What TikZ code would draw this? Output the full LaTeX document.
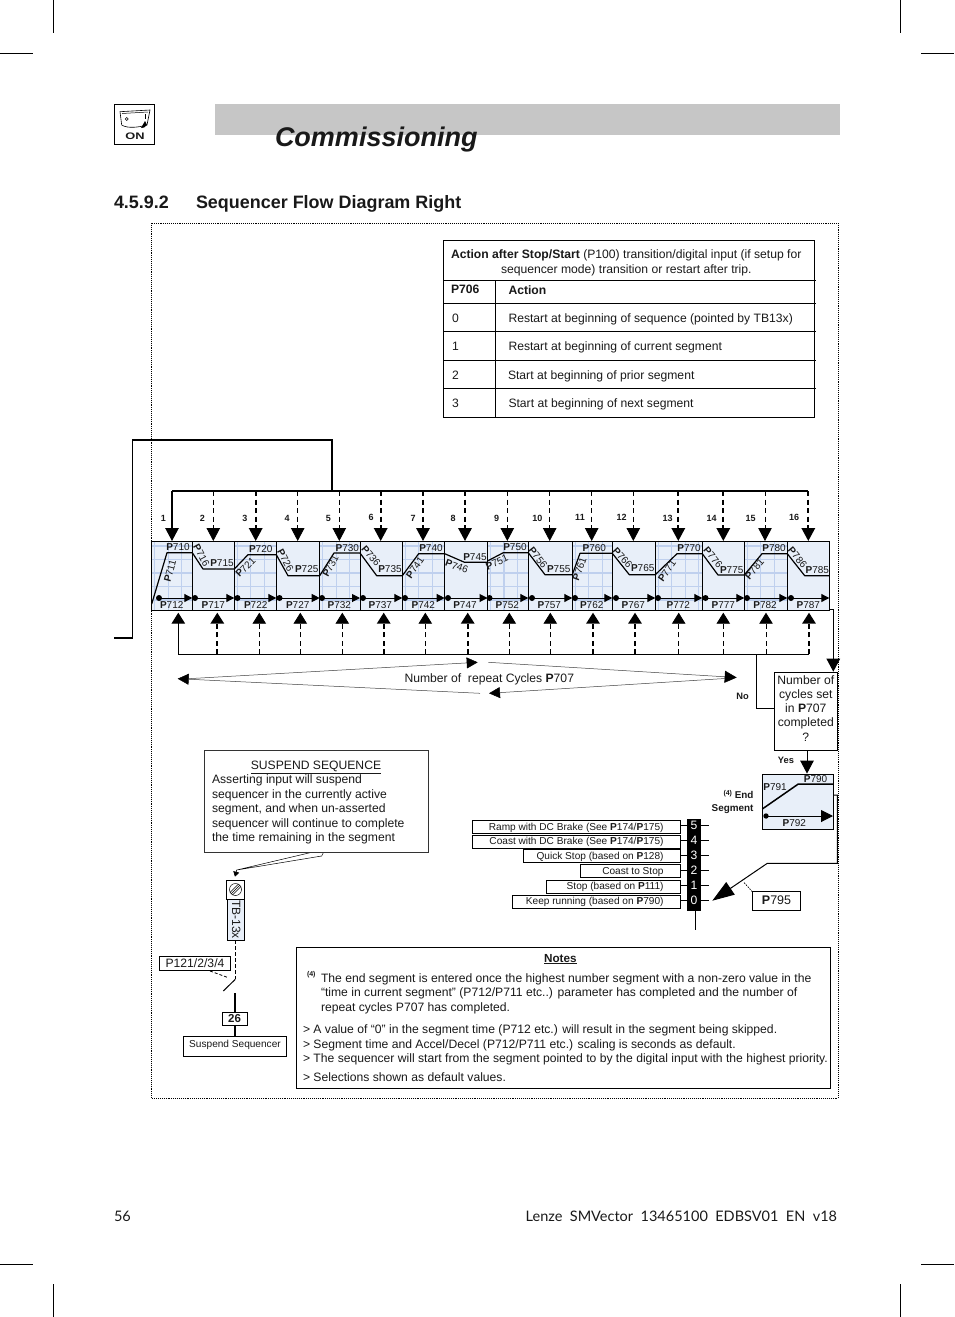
\documentclass[tikz,border=0pt]{standalone}
\usepackage{fontspec}
\setmainfont{Liberation Sans}
\newfontfamily\footfont{Lato}
\usetikzlibrary{arrows.meta}
\definecolor{cellbg}{HTML}{E8EFF9}
\definecolor{gridc}{HTML}{BFD0EE}
\definecolor{bandc}{HTML}{C6C6C6}
\newcommand\fs[1]{\fontsize{#1}{#1}\selectfont}
\newcommand\Pb[1]{\textbf{P}#1}
\tikzset{
 every node/.style={inner sep=0pt,outer sep=0pt,text=black!90},
 txt/.style={font=\fs{12.15},anchor=base west},
 small/.style={font=\fs{10},anchor=center},
 num/.style={font=\fs{9}\bfseries,anchor=center},
 tline/.style={line width=.8pt,black},
 crop/.style={line width=.6pt,black},
 frameline/.style={line width=.7pt,black,dash pattern=on .9pt off 1pt},
 sthin/.style={line width=.8pt,dash pattern=on 5pt off 3.5pt},
 sthick/.style={line width=1.7pt,dash pattern=on 5pt off 3.5pt},
 ssolid/.style={line width=1.2pt},
 head/.style={-{Triangle[length=13pt,width=13.5pt]}},
 box/.style={draw=black,line width=.8pt,fill=white},
 lens/.style={line width=.5pt,black!75},
 mode/.style={font=\fs{10.1},anchor=base east},
 modebox/.style={draw=black,line width=.7pt,fill=white},
 prof/.style={line width=1.2pt,black,line join=round},
 timer/.style={line width=1pt,-{Triangle[length=8pt,width=8pt]}},
}
% id, x0, x1, grid(0/1), y start, x knee, y knee, dot x, bottom label x
\newcommand\seg[9]{%
  \ifnum#4=1
    \fill[cellbg] (#2,541.5) rectangle (#3,610.3);
    \begin{scope}
      \clip (#2,541.5) rectangle (#3,610.3);
      \foreach \gx in {3,16.5,...,48} \draw[gridc,line width=1.3pt] ({#2+\gx},541) -- ({#2+\gx},611);
      \foreach \gy in {546,559.5,573,586.5,600} \draw[gridc,line width=1.3pt] (#2,\gy) -- (#3,\gy);
    \end{scope}
  \else
    \fill[cellbg] (#2,541.5) rectangle (#3,610.3);
  \fi
  \draw[line width=.9pt] (#2,541.5) rectangle (#3,610.3);
  \draw[prof] (#2,#5) -- (#6,#7) -- (#3,#7);
  \fill (#8,598) circle (3pt);
  \draw[timer] (#8,598) -- (#3,598);
  \node[small] (bot#1) at (#9,604.7) {\Pb{7#1}};
}
\newcommand\lab[3]{\node[small] (lab#1) at (#2,#3) {\Pb{7#1}};}
\newcommand\rlab[4]{\node[small,rotate=#4] (lab#1) at (#2,#3) {\Pb{7#1}};}
\begin{document}
\begin{tikzpicture}[x=1pt,y=-1pt]
\useasboundingbox (0,0) rectangle (954,1317);
% crop marks
\draw[crop] (0,53) -- (33,53); \draw[crop] (53,0) -- (53,33);
\draw[crop] (921,53) -- (954,53); \draw[crop] (900,0) -- (900,33);
\draw[crop] (0,1264) -- (33,1264); \draw[crop] (53,1284) -- (53,1317);
\draw[crop] (921,1264) -- (954,1264); \draw[crop] (900,1284) -- (900,1317);
% header
\fill[bandc] (215,104) rectangle (840,135);
\node[font=\fs{27}\bfseries\itshape,anchor=base west] (title) at (275,146) {Commissioning};
\draw[line width=1pt] (114,104.5) rectangle (154.5,144.5);
\draw[line width=.6pt] (120,111.7) -- (150,110) -- (147,125) .. controls (140,127) and (128,129) .. (121.7,125) -- cycle;
\draw[line width=.5pt] (122,113.5) -- (148,112);
\draw[line width=.5pt] (126.7,119) circle (1.5pt);
\draw[line width=.7pt] (145,114) -- (145,119);
\fill (145,121) -- (141,128) -- (144,127.5) -- (147,125) -- cycle;
\node[font=\fs{9.5}\bfseries,anchor=center,xscale=1.35] (on) at (135,136) {ON};
\node[font=\fs{17.95}\bfseries,anchor=base west] (secnum) at (114,208) {4.5.9.2};
\node[font=\fs{17.95}\bfseries,anchor=base west] (sectitle) at (196,208) {Sequencer Flow Diagram Right};
% frame
\draw[frameline] (151.5,223) rectangle (838,1098);
% table
\draw[tline] (443.3,240.3) rectangle (814.3,417);
\foreach \ty in {280.3,303,331.3,360,388} \draw[tline] (443.3,\ty) -- (815.5,\ty);
\draw[tline] (495.7,280.3) -- (495.7,417);
\node[txt] (th1) at (451,258) {\textbf{Action after Stop/Start} (P100) transition/digital input (if setup for};
\node[txt] (th2) at (501,273) {sequencer mode) transition or restart after trip.};
\node[txt,font=\fs{12.15}\bfseries] (p706) at (451,293) {P706};
\node[txt,font=\fs{12.15}\bfseries] (act) at (508.5,294) {Action};
\node[txt] (r0n) at (452,322) {0};
\node[txt] (r0) at (508.5,322) {Restart at beginning of sequence (pointed by TB13x)};
\node[txt] (r1n) at (452,350.5) {1};
\node[txt] (r1) at (508.5,350) {Restart at beginning of current segment};
\node[txt] (r2n) at (452,379) {2};
\node[txt] (r2) at (508,379) {Start at beginning of prior segment};
\node[txt] (r3n) at (452,407) {3};
\node[txt] (r3) at (508.5,407) {Start at beginning of next segment};
% restart line
\coordinate (r1a) at (114,638);\coordinate (r1b) at (132.7,638);\coordinate (r1c) at (132.7,440);\coordinate (r1d) at (332,440);\coordinate (r1e) at (332,491);
\draw[line width=1.4pt] (r1a) -- (r1b) -- (r1c) -- (r1d) -- (r1e);
% cells
\seg{12}{151.7}{192.3}{1}{604}{167}{552.7}{159}{171.7}
\seg{17}{192.3}{234.3}{0}{552.7}{203}{569}{195}{213.3}
\seg{22}{234.3}{276.3}{1}{569}{248}{554.7}{237.5}{255.7}
\seg{27}{276.3}{319.7}{0}{554.7}{288}{575.7}{279.5}{297.7}
\seg{32}{319.7}{360}{1}{575.7}{334}{553}{322}{339.3}
\seg{37}{360}{402.3}{0}{553}{376.7}{575.7}{363}{380.3}
\seg{42}{402.3}{444.7}{1}{575.7}{418.7}{553.7}{405}{423.3}
\seg{47}{444.7}{487.5}{0}{553.7}{464.5}{562.3}{448}{465}
\seg{52}{487.5}{528.3}{1}{561}{503.3}{552.7}{489.5}{507.3}
\seg{57}{528.3}{572.3}{0}{552.7}{545}{574.7}{532}{549.3}
\seg{62}{572.3}{612.3}{1}{574.7}{580}{553.3}{575}{591.7}
\seg{67}{612.3}{655.3}{0}{553.3}{629.3}{574.7}{616}{633.3}
\seg{72}{655.3}{702.3}{1}{574.7}{677}{553.7}{658}{678.3}
\seg{77}{702.3}{744.3}{0}{553.7}{718}{575}{705.5}{723.3}
\seg{82}{744.3}{787.3}{1}{575}{762}{553.7}{747}{765}
\seg{87}{787.3}{829.3}{0}{553.7}{804.7}{575.7}{791}{808.3}
% top labels
\lab{10}{178}{547}\rlab{11}{170}{571}{75}
\rlab{16}{201.5}{555}{-62}\lab{15}{222}{563.5}
\lab{20}{260.7}{549.3}\rlab{21}{245.5}{567}{45}
\rlab{26}{285.5}{560}{-62}\lab{25}{306.7}{569.5}
\lab{30}{347.3}{547.7}\rlab{31}{330.5}{566}{62}
\rlab{36}{371}{556}{-50}\lab{35}{390}{569.5}
\lab{40}{431}{548.3}\rlab{41}{415}{567.5}{55}
\lab{45}{475}{556.7}\rlab{46}{456.7}{566.5}{-20}
\lab{50}{515}{547.3}\rlab{51}{497}{562.5}{25}
\rlab{56}{538}{557.5}{-52}\lab{55}{558.7}{569.5}
\lab{60}{594.3}{548.3}\rlab{61}{579.5}{569}{70}
\rlab{66}{622.5}{557.5}{-48}\lab{65}{642.7}{568.5}
\lab{70}{689}{548.3}\rlab{71}{667}{571}{55}
\rlab{76}{713}{557.5}{-50}\lab{75}{731.7}{570}
\lab{80}{774}{547.7}\rlab{81}{754.5}{569}{50}
\rlab{86}{797.5}{557.5}{-50}\lab{85}{817.3}{570}
% top bus and arrows
\coordinate (tl) at (172,491);\coordinate (tr) at (808.3,491);
\draw[line width=1.2pt] (tl) -- (tr);
\foreach \x/\st in {172/ssolid,213.3/sthin,255.7/sthick,297.7/sthin,339.3/sthin,380.7/sthick,423/sthick,465/sthick,507.3/sthin,549.7/sthin,591.7/sthin,633.3/sthin,678.3/sthick,723.3/sthick,765/sthin,808.3/sthick}
  \draw[\st,head] (\x,491) -- (\x,541);
% numbers
\foreach \i/\x/\y in {1/163.3/518,2/202.3/518.5,3/245/518.5,4/287/518.5,5/328.3/518.5,6/371/517.5,7/413/518.5,8/453/518.5,9/496.7/518.5,10/537.3/518.5,11/580/517.5,12/621.7/517.5,13/667.7/518.5,14/711.7/518.5,15/750.7/518.5,16/794/517.5}
  \node[num] (n\i) at (\x,\y) {\i};
% bottom bus and arrows
\coordinate (bl) at (178.3,654.3);\coordinate (br) at (809,654.3);
\draw[line width=1.2pt] (bl) -- (br);
\foreach \x/\st in {178.3/ssolid,217.3/sthick,259.3/sthin,300.3/sthin,342.3/sthin,383.7/sthick,425.3/sthin,467.7/sthick,509.3/sthin,550.3/sthin,593/sthick,635/sthick,678.7/sthin,723.3/sthin,766/sthin,809/sthick}
  \draw[\st,-{Triangle[length=11pt,width=13.5pt]}] (\x,654.3) -- (\x,612.7);
% repeat cycles lens
\coordinate (la) at (188,678.7);\coordinate (lb) at (477.7,662.3);\coordinate (lc) at (480,693.3);
\coordinate (ra) at (488.3,662.3);\coordinate (rb) at (736.7,677.5);\coordinate (rc) at (489,693.3);
\draw[lens,-{Triangle[length=11pt,width=11pt,black]}] (la) -- (lb);
\draw[lens,-{Triangle[length=11pt,width=11pt,black]}] (lc) -- (177.7,678.7);
\draw[lens,-{Triangle[length=12pt,width=12pt,black]}] (ra) -- (rb);
\draw[lens,-{Triangle[length=11pt,width=11pt,black]}] (725,678.5) -- (rc);
\node[txt] (rep) at (404.5,682) {Number of\ \ repeat Cycles \textbf{P}707};
% cycles box
\node[box,line width=1pt,minimum width=63pt,minimum height=77.7pt,anchor=north west] (cyc) at (774.3,672.3) {};
\foreach \i/\y/\t in {1/684/Number of,2/698/cycles set,3/712.5/in \textbf{P}707,4/726.5/completed,5/741/?}
  \node[txt,anchor=base] (cyct\i) at (805.8,\y) {\t};
\coordinate (o1) at (829.3,609.8);\coordinate (o2) at (833.3,609.8);\coordinate (o3) at (833.3,671.7);
\draw[line width=1pt,head] (o1) -- (o2) -- (o3);
\coordinate (no1) at (756.7,654.3);\coordinate (no2) at (756.7,708.3);
\draw[line width=1pt] (no1) -- (no2) -- (774.3,708.3);
\node[font=\fs{9.3}\bfseries] (no) at (742.5,696) {No};
\node[font=\fs{9.3}\bfseries] (yes) at (786,760.5) {Yes};
% end segment
\node[fill=cellbg,draw=black,line width=.8pt,minimum width=71pt,minimum height=55pt,anchor=north west] (endc) at (762.3,774.3) {};
\draw[line width=1pt,head] (807,750) -- (807,773.6);
\draw[line width=1.5pt] (762.3,809) -- (798.3,784) -- (833.3,784);
\fill (766,816) circle (2.7pt);
\draw[line width=1pt,-{Triangle[length=12pt,width=12pt]}] (766,816) -- (833,816);
\node[small] (p790) at (815.5,779) {\Pb{790}};
\node[small] (p791) at (775,786.7) {\Pb{791}};
\node[small] (p792) at (794.3,822.7) {\Pb{792}};
\node[font=\fs{9.9}\bfseries,anchor=base east] (es1) at (753.5,798.5) {\raisebox{3pt}{\fs{7}(4)} End};
\node[font=\fs{9.9}\bfseries,anchor=base east] (es2) at (753.5,811.5) {Segment};
% mode bar
\fill[black] (687.3,819.3) rectangle (700.7,910.7);
\foreach \i/\y/\t in {5/825/5,4/840/4,3/855/3,2/870/2,1/885/1,0/900.5/0}{
  \node[font=\fs{12.15},text=white] (d\i) at (694,\y) {\t};
  \draw[line width=.9pt] (700.7,\y) -- (709.3,\y);
  \draw[line width=.9pt] (680,\y) -- (687.3,\y);
}
\draw[line width=1pt] (695,910.7) -- (695,930);
\draw[modebox] (472.3,820.3) rectangle (680,833.3);
\draw[modebox] (472.3,835.3) rectangle (680,848.3);
\draw[modebox] (523.3,849.3) rectangle (680.7,862.3);
\draw[modebox] (580.3,864.3) rectangle (680.7,877.3);
\draw[modebox] (546.3,880) rectangle (680.7,893.3);
\draw[modebox] (512.3,895.3) rectangle (680.7,908.3);
\node[mode] (m5) at (663.5,830) {Ramp with DC Brake (See \textbf{P}174/\textbf{P}175)};
\node[mode] (m4) at (663.5,844.5) {Coast with DC Brake (See \textbf{P}174/\textbf{P}175)};
\node[mode] (m3) at (663.5,859.5) {Quick Stop (based on \textbf{P}128)};
\node[mode] (m2) at (663.5,874.5) {Coast to Stop};
\node[mode] (m1) at (663.5,889.5) {Stop (based on \textbf{P}111)};
\node[mode] (m0) at (663.5,904.5) {Keep running (based on \textbf{P}790)};
% end output
\coordinate (e1) at (833.3,795);\coordinate (e2) at (837.3,795);\coordinate (e3) at (837.3,863.3);\coordinate (e4) at (767.3,863.3);\coordinate (e5) at (712.3,900.7);
\draw[line width=1pt,-{Triangle[length=22pt,width=15pt]}] (e1) -- (e2) -- (e3) -- (e4) -- (e5);
\node[box,line width=1pt,minimum width=48.4pt,minimum height=18.3pt,anchor=north west] (p795) at (752.3,891.7) {};
\node[font=\fs{12.5}] (p795t) at (776.5,900.5) {\textbf{P}795};
\draw[line width=.7pt,dash pattern=on 1.5pt off 1.2pt] (p795.north west) -- (743.3,881.7);
% suspend box
\coordinate (cal1) at (310,852.7);\coordinate (cal2) at (323.3,852.7);\coordinate (cal3) at (321.7,856);\coordinate (cal4) at (236.7,870);
\draw[line width=.5pt,fill=white] (cal1) -- (cal4) -- (cal3) -- (cal2);
\draw[line width=.6pt,-{Triangle[length=5pt,width=6pt]}] (cal4) -- (235,876.7);
\node[draw=black!80,line width=.6pt,fill=white,minimum width=224.3pt,minimum height=102pt,anchor=north west] (susp) at (204,750.7) {};
\node[font=\fs{12.15},anchor=base] (susp0) at (316,769) {\underline{SUSPEND SEQUENCE}};
\foreach \i/\y/\t in {1/783/{Asserting input will suspend},2/798/{sequencer in the currently active},3/812.5/{segment, and when un-asserted},4/827/{sequencer will continue to complete},5/841.5/{the time remaining in the segment}}
  \node[txt] (susp\i) at (212,\y) {\t};
% TB13x
\draw[line width=.8pt,fill=white] (226.3,880.3) rectangle (244.7,899);
\draw[line width=.5pt] (235.5,889.5) circle (6pt);
\draw[line width=.5pt] (231,894) -- (240,885); \draw[line width=.5pt] (232.5,895) -- (241,886.5); \draw[line width=.5pt] (230,892.5) -- (238.5,884);
\node[draw=black,line width=.8pt,fill=cellbg,minimum width=17pt,minimum height=41pt,anchor=north west] (tb) at (227.7,899) {};
\node[font=\fs{12},rotate=-90] (tbt) at (236.3,919.5) {TB-13x};
\coordinate (sw1) at (235.3,979.3);\coordinate (sw2) at (223.3,991);\coordinate (sw3) at (235,993.3);
\draw[line width=.8pt,dash pattern=on 3.5pt off 2.5pt] (tb.south -| sw1) -- (sw1);
\draw[line width=1pt] (sw1) -- (sw2);
\node[box,line width=.8pt,minimum width=70.7pt,minimum height=14.3pt,anchor=north west] (p121) at (159.3,956) {};
\node[font=\fs{12.15}] (p121t) at (195,963) {P121/2/3/4};
\draw[line width=.8pt,dash pattern=on 3pt off 2pt] (210,971) -- (227.3,977.3);
\node[box,line width=1pt,minimum width=25pt,minimum height=13pt,anchor=north west] (n26) at (222.3,1012.3) {};
\node[font=\fs{11.5}\bfseries] (n26t) at (234.5,1019) {26};
\node[box,minimum width=103.4pt,minimum height=19.3pt,anchor=north west] (ssb) at (183.3,1036.7) {};
\node[font=\fs{10.1}] (ssbt) at (235,1045) {Suspend Sequencer};
\draw[line width=1.3pt] (sw3) -- (n26.north -| sw3);
\draw[line width=1.3pt] (n26.south -| sw3) -- (ssb.north -| sw3);
% notes
\draw[line width=.8pt] (296.3,947.7) rectangle (830,1088);
\node[font=\fs{11.7}\bfseries,anchor=base] (nt) at (560.3,962) {\underline{Notes}};
\node[font=\fs{7}\bfseries,anchor=base west] (n4) at (307,976) {(4)};
\foreach \i/\x/\y/\t in {
 a/321/982/{The end segment is entered once the highest number segment with a non-zero value in the},
 b/321/996/{“time in current segment” (P712/P711 etc..) parameter has completed and the number of},
 c/321/1011/{repeat cycles P707 has completed.},
 d/303/1033/{> A value of “0” in the segment time (P712 etc.) will result in the segment being skipped.},
 e/303/1048/{> Segment time and Accel/Decel (P712/P711 etc.) scaling is seconds as default.},
 f/303/1062/{> The sequencer will start from the segment pointed to by the digital input with the highest priority.},
 g/303/1081/{> Selections shown as default values.}}
  \node[txt] (note\i) at (\x,\y) {\t};
% footer
\node[font=\footfont\fs{14.5},anchor=base west] (pg) at (114,1221) {56};
\node[font=\footfont\fs{14.5},anchor=base east] (ft) at (837,1221) {Lenze\ \ SMVector\ \ 13465100\ \ EDBSV01\ \ EN\ \ v18};
\end{tikzpicture}
\end{document}
